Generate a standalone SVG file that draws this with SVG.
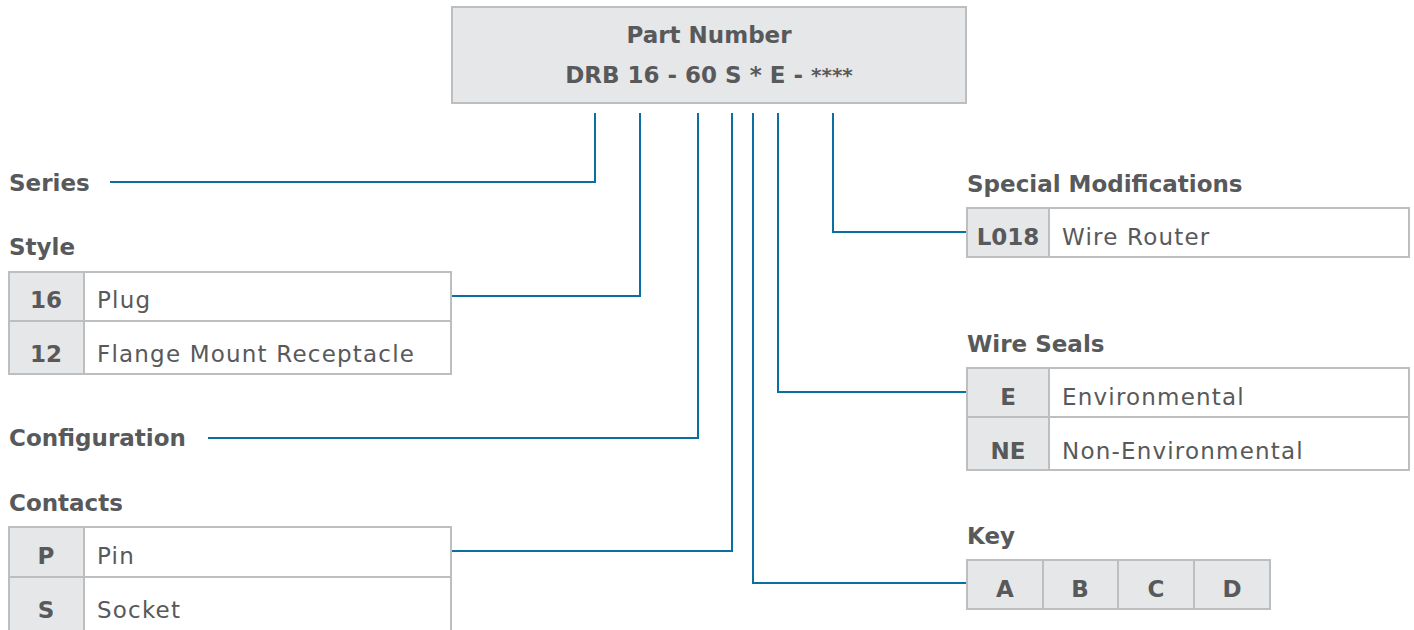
<svg xmlns="http://www.w3.org/2000/svg" width="1414" height="630" viewBox="0 0 1414 630">
<style>
text{font-family:"DejaVu Sans","Open Sans",sans-serif;fill:#58595b;font-size:23px}
.r{letter-spacing:1.2px}
.b{font-weight:bold}
.c{text-anchor:middle}
.k{fill:#e6e7e8;stroke:#bcbec0;stroke-width:2}
.v{fill:#ffffff;stroke:#bcbec0;stroke-width:2}
.ln{fill:none;stroke:#0b6fa4;stroke-width:2}
</style>
<g id="header">
<rect x="452" y="7" width="514" height="96" class="k"/>
<text x="709" y="43" class="b c">Part Number</text>
<text x="709" y="83" class="b c">DRB 16 - 60 S * E - <tspan font-size="20" dy="-1">****</tspan></text>
</g>
<g id="connectors">
<polyline class="ln" points="595,113 595,182 110,182"/>
<polyline class="ln" points="640,113 640,296 451,296"/>
<polyline class="ln" points="698,113 698,438 208,438"/>
<polyline class="ln" points="732,113 732,551 451,551"/>
<polyline class="ln" points="753,113 753,583 967,583"/>
<polyline class="ln" points="778,113 778,392 967,392"/>
<polyline class="ln" points="833,113 833,232 967,232"/>
</g>
<g id="series">
<text x="9" y="191" class="b">Series</text>
</g>
<g id="style">
<text x="9" y="255" class="b">Style</text>
<rect x="9" y="272" width="75" height="49" class="k"/>
<rect x="84" y="272" width="367" height="49" class="v"/>
<rect x="9" y="321" width="75" height="53" class="k"/>
<rect x="84" y="321" width="367" height="53" class="v"/>
<text x="46" y="308" class="b c">16</text>
<text x="97" y="308" class="r">Plug</text>
<text x="46" y="362" class="b c">12</text>
<text x="97" y="362" class="r">Flange Mount Receptacle</text>
</g>
<g id="configuration">
<text x="9" y="446" class="b">Configuration</text>
</g>
<g id="contacts">
<text x="9" y="511" class="b">Contacts</text>
<rect x="9" y="527" width="75" height="50" class="k"/>
<rect x="84" y="527" width="367" height="50" class="v"/>
<rect x="9" y="577" width="75" height="60" class="k"/>
<rect x="84" y="577" width="367" height="60" class="v"/>
<text x="46" y="564" class="b c">P</text>
<text x="97" y="564" class="r">Pin</text>
<text x="46" y="618" class="b c">S</text>
<text x="97" y="618" class="r">Socket</text>
</g>
<g id="special-modifications">
<text x="967" y="192" class="b">Special Modifications</text>
<rect x="967" y="208" width="82" height="49" class="k"/>
<rect x="1049" y="208" width="360" height="49" class="v"/>
<text x="1008" y="245" class="b c">L018</text>
<text x="1062" y="245" class="r">Wire Router</text>
</g>
<g id="wire-seals">
<text x="967" y="352" class="b">Wire Seals</text>
<rect x="967" y="368" width="82" height="49" class="k"/>
<rect x="1049" y="368" width="360" height="49" class="v"/>
<rect x="967" y="417" width="82" height="53" class="k"/>
<rect x="1049" y="417" width="360" height="53" class="v"/>
<text x="1008" y="405" class="b c">E</text>
<text x="1062" y="405" class="r">Environmental</text>
<text x="1008" y="459" class="b c">NE</text>
<text x="1062" y="459" class="r">Non-Environmental</text>
</g>
<g id="key">
<text x="967" y="544" class="b">Key</text>
<rect x="967" y="560" width="76" height="49" class="k"/>
<rect x="1043" y="560" width="75" height="49" class="k"/>
<rect x="1118" y="560" width="76" height="49" class="k"/>
<rect x="1194" y="560" width="76" height="49" class="k"/>
<text x="1005" y="597" class="b c">A</text>
<text x="1080" y="597" class="b c">B</text>
<text x="1156" y="597" class="b c">C</text>
<text x="1232" y="597" class="b c">D</text>
</g>
</svg>
